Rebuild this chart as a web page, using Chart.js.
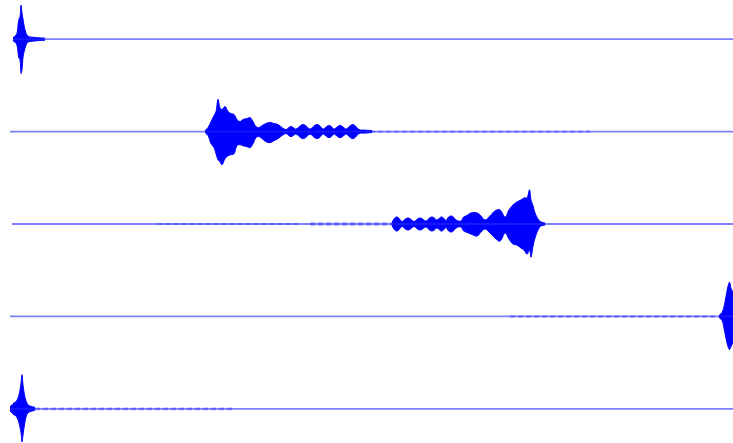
<!DOCTYPE html>
<html>
<head>
<meta charset="utf-8">
<script src="https://cdn.jsdelivr.net/npm/chart.js@4/dist/chart.umd.min.js"></script>
<style>
  html, body { margin: 0; padding: 0; background: #ffffff; }
  #wrap { width: 733px; height: 443px; }
  #c { filter: blur(0.7px); }
</style>
</head>
<body>
<div id="wrap"><canvas id="c" width="733" height="443"></canvas></div>
<script>
// Five seismogram traces, time in seconds, amplitude in counts.
// Each burst is given as an envelope: [time, upward amplitude, downward amplitude].
const TRACE_SPACING = 92;            // vertical offset between stacked traces (counts)
const RECORD_END = 100;              // end of the recording window (s)
const traceStart = [1.77, 1.36, 1.64, 1.36, 1.36];

const burst1 = [
  [1.77, 1.5, 1.5], [2.05, 3, 3], [2.32, 6, 6], [2.46, 14, 13], [2.59, 20, 19],
  [2.73, 22, 20], [2.87, 34, 34], [3.00, 26, 30], [3.14, 20, 18], [3.27, 14, 13],
  [3.55, 6, 6], [3.82, 3, 3], [4.37, 2, 2], [6.14, 1, 1]
];
const burst2 = [
  [27.97, 1, 1], [28.38, 4, 4], [28.79, 10, 12], [29.20, 16, 16], [29.47, 20, 22],
  [29.74, 32, 28], [30.01, 24, 30], [30.29, 22, 33], [30.70, 25, 27], [31.11, 20, 24],
  [31.52, 18, 23], [31.93, 17, 22], [32.33, 12, 14], [32.74, 10, 13], [33.15, 12, 14],
  [33.70, 13, 15], [34.11, 14, 16], [34.52, 10, 12], [34.93, 5, 6], [35.34, 4, 5],
  [35.75, 6, 7], [36.29, 8, 10], [36.84, 9, 11], [37.38, 8, 9], [37.93, 7, 7],
  [38.47, 4, 4], [39.02, 2, 2], [39.40, 4, 4], [39.70, 5, 5], [40.00, 4, 4],
  [40.38, 2.5, 2.5], [41.00, 6, 6], [41.34, 7, 7], [41.70, 6, 6],
  [42.29, 2.5, 2.5], [42.90, 6, 6], [43.25, 7, 7], [43.60, 6, 6],
  [44.07, 2.5, 2.5], [44.55, 5, 5], [44.89, 6, 6], [45.20, 5, 5],
  [45.57, 2.5, 2.5], [46.05, 5, 5], [46.39, 6, 6], [46.75, 5, 5],
  [47.21, 2.5, 2.5], [47.80, 6, 6], [48.16, 7, 7], [48.50, 5.5, 5.5],
  [48.98, 2, 2], [49.80, 1.5, 1.5], [50.75, 1, 1]
];
const burst3 = [
  [53.48, 1.5, 1.5], [53.85, 6, 6], [54.16, 7, 7], [54.45, 5.5, 5.5],
  [54.85, 2.5, 2.5], [55.30, 5, 5], [55.66, 6, 6], [56.00, 5, 5],
  [56.48, 2.5, 2.5], [56.95, 5, 5], [57.30, 6, 6], [57.65, 5, 5],
  [58.12, 3, 3], [58.60, 6, 6], [58.94, 7, 7], [59.25, 6, 6],
  [59.62, 4, 4], [60.17, 7, 7], [60.50, 6, 6],
  [60.85, 3.5, 3.5], [61.20, 7, 7], [61.53, 8, 8], [61.85, 7, 7],
  [62.21, 4, 4], [62.89, 3, 3], [63.25, 7, 7], [63.58, 8, 8],
  [64.26, 11, 10], [65.08, 11, 12], [65.62, 8, 8], [66.17, 4, 5], [66.85, 8, 9],
  [67.53, 13, 14], [68.22, 14, 17], [68.90, 7, 9], [69.44, 14, 15], [69.99, 19, 20],
  [70.53, 22, 21], [71.08, 24, 24], [71.49, 26, 26], [71.90, 26, 30], [72.24, 34, 26],
  [72.44, 24, 33], [72.72, 18, 22], [72.99, 11, 14], [73.40, 5, 6], [73.81, 2, 2],
  [74.36, 1, 1]
];
const burst4 = [
  [98.09, 1, 1], [98.50, 4, 4], [98.78, 10, 12], [99.05, 20, 22], [99.32, 30, 30],
  [99.53, 34, 33], [99.73, 28, 30], [100.0, 24, 26]
];
const burst5 = [
  [1.36, 2, 2], [1.64, 4, 4], [1.91, 6, 6], [2.18, 7, 7], [2.46, 11, 11],
  [2.66, 16, 16], [2.87, 26, 24], [3.00, 34, 33], [3.14, 24, 26], [3.34, 14, 16],
  [3.55, 8, 8], [3.82, 4, 4], [4.23, 2.5, 2.5], [4.77, 1.5, 1.5]
];
const bursts = [burst1, burst2, burst3, burst4, burst5];

// Low-level coda noise: [from, to, amplitude]
const noise1 = [];
const noise2 = [[50.5, 80.5, 1.0]];
const noise3 = [[21.4, 40.9, 0.9], [42.3, 53.6, 1.5]];
const noise4 = [[69.6, 98.2, 1.1]];
const noise5 = [[4.8, 32.1, 1.2]];
const noises = [noise1, noise2, noise3, noise4, noise5];

const BLUE = 'rgb(0, 0, 255)';
const datasets = [];

bursts.forEach((env, k) => {
  const base = (bursts.length - 1 - k) * TRACE_SPACING;

  // continuous trace line
  datasets.push({
    data: [{ x: traceStart[k], y: base }, { x: RECORD_END, y: base }],
    borderColor: 'rgba(40, 40, 255, 0.6)',
    borderWidth: 1.8,
    pointRadius: 0,
    fill: false
  });

  // coda noise
  noises[k].forEach(([a, b, amp]) => {
    datasets.push({
      data: [{ x: a, y: base }, { x: b, y: base }],
      borderColor: 'rgba(0, 0, 255, 0.35)',
      borderWidth: amp * 2.2,
      borderDash: [5, 3],
      pointRadius: 0,
      fill: false
    });
  });

  // burst envelope: upper edge filled down to lower edge
  datasets.push({
    data: env.map(([t, up]) => ({ x: t, y: base + up })),
    borderColor: BLUE,
    backgroundColor: BLUE,
    borderWidth: 1,
    pointRadius: 0,
    tension: 0.4,
    fill: '+1'
  });
  datasets.push({
    data: env.map(([t, , down]) => ({ x: t, y: base - down })),
    borderColor: BLUE,
    backgroundColor: BLUE,
    borderWidth: 1,
    pointRadius: 0,
    tension: 0.4,
    fill: false
  });
});

new Chart(document.getElementById('c'), {
  type: 'line',
  data: { datasets },
  options: {
    responsive: false,
    animation: false,
    layout: { padding: 0 },
    plugins: { legend: { display: false }, tooltip: { enabled: false } },
    scales: {
      x: { type: 'linear', min: 0, max: RECORD_END, display: false },
      y: { type: 'linear', min: -34, max: 407, display: false }
    }
  }
});
</script>
</body>
</html>
